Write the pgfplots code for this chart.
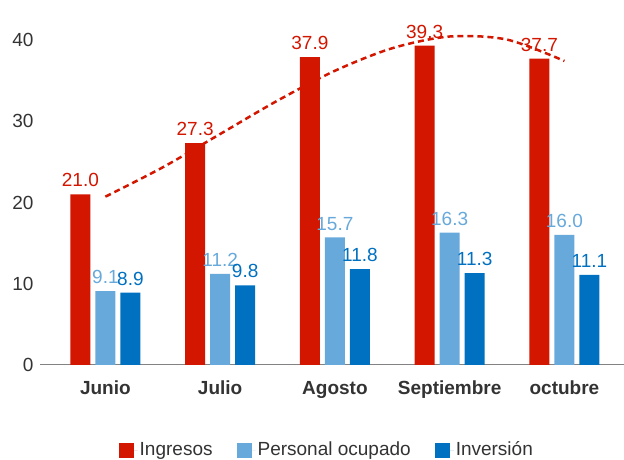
\documentclass[border=0pt]{standalone}
\usepackage{pgfplots}
\pgfplotsset{compat=1.18}
\usepackage{fontspec}
\setmainfont{Liberation Sans}
\definecolor{cRed}{RGB}{210,22,0}
\definecolor{cLight}{RGB}{103,169,218}
\definecolor{cBlue}{RGB}{0,112,192}
\definecolor{txt}{RGB}{51,51,51}
\definecolor{axc}{RGB}{130,130,130}
\pgfplotsset{
  mybar/.style 2 args={ybar, draw=none, bar width=20pt, fill=#1, bar shift=#2,
    nodes near coords,
    every node near coord/.append style={text=#1, anchor=south, inner sep=0pt, yshift=7pt, xshift=#2,
      /pgf/number format/.cd, fixed, fixed zerofill, precision=1, assume math mode=true},
    legend image code/.code={\fill[#1] (0pt,-7.5pt) rectangle (15pt,7.5pt); \path (15pt,0pt) -- (19pt,0pt);}},
}
\begin{document}
\fontsize{19}{22.8}\selectfont
\begin{tikzpicture}
\begin{axis}[name=ax,
  x=114.75pt, y=8.125pt,
  xmin=-0.57, xmax=4.52, ymin=0, ymax=45,
  axis x line=bottom, axis y line=left,
  x axis line style={-, draw=axc, line width=1pt},
  y axis line style={draw=none},
  major tick length=0pt,
  xtick={0,1,2,3,4},
  xticklabels={Junio,Julio,Agosto,Septiembre,octubre},
  xticklabel style={font=\bfseries, text=txt, text height=14pt, text depth=4pt, yshift=-9pt},
  ytick={0,10,20,30,40},
  yticklabel style={text=txt},
  /pgf/number format/assume math mode=true,
  clip=false,
  legend style={at={(0.491,-0.2325)}, anchor=center, draw=none, legend columns=-1,
    text=txt, /tikz/every even column/.append style={column sep=22pt}},
]
\addplot[mybar={cRed}{-25pt}] coordinates {(0,21.0) (1,27.3) (2,37.9) (3,39.3) (4,37.7)};
\addlegendentry{Ingresos}
\addplot[mybar={cLight}{0pt}] coordinates {(0,9.1) (1,11.2) (2,15.7) (3,16.3) (4,16.0)};
\addlegendentry{Personal ocupado}
\addplot[mybar={cBlue}{25pt}] coordinates {(0,8.9) (1,9.8) (2,11.8) (3,11.3) (4,11.1)};
\addlegendentry{Inversión}
\addplot[smooth, draw=cRed, line width=2.5pt, dash pattern=on 6pt off 4pt, forget plot]
  coordinates {(0,20.72) (0.5,24.33) (1,28.43) (1.5,32.54) (2,36.21) (2.5,38.99) (3,40.43) (3.5,40.05) (4,37.42)};
\end{axis}
\pgfresetboundingbox
\path[use as bounding box] ([xshift=-40pt,yshift=-95pt]ax.south west) rectangle ++(624pt,460pt);
\end{tikzpicture}
\end{document}
